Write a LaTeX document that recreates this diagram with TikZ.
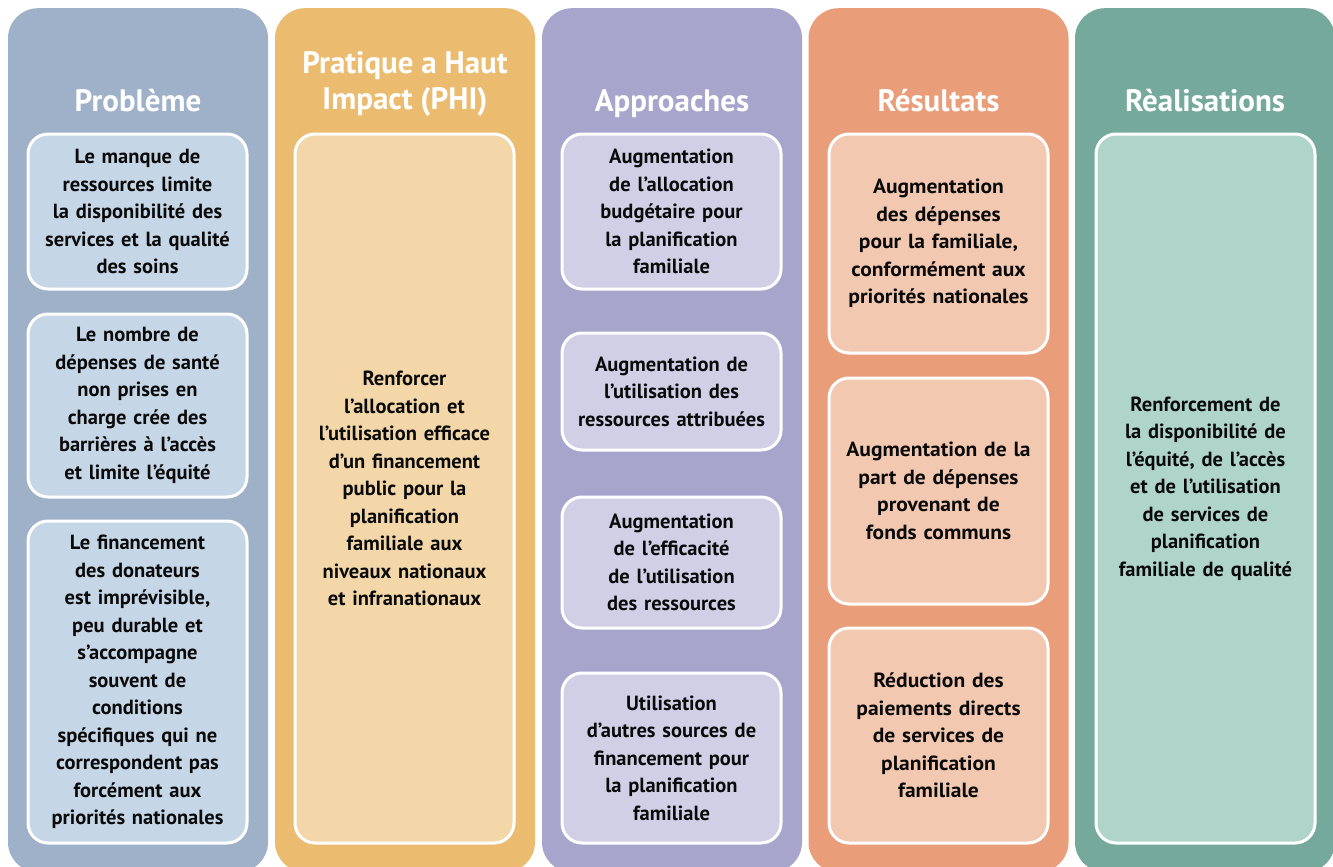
\documentclass[tikz,border=0pt]{standalone}
\usepackage{fontspec}
\setmainfont{PT Sans}
\definecolor{cA}{HTML}{9EB1C9}\definecolor{cAl}{HTML}{C5D6E6}
\definecolor{cB}{HTML}{EBBC70}\definecolor{cBl}{HTML}{F3D7A9}
\definecolor{cC}{HTML}{A8A5CD}\definecolor{cCl}{HTML}{D1CFE6}
\definecolor{cD}{HTML}{EA9D79}\definecolor{cDl}{HTML}{F2C8B1}
\definecolor{cE}{HTML}{75A99B}\definecolor{cEl}{HTML}{AFD5CB}
\definecolor{txt}{HTML}{0A0A0A}
\begin{document}
\begin{tikzpicture}[x=1pt,y=-1pt,
  colbox/.style={rounded corners=30pt, inner sep=0pt, minimum width=260pt, minimum height=864pt, anchor=north},
  coltitle/.style={text=white, align=center, inner sep=0pt, font=\bfseries\fontsize{31}{36}\selectfont},
  itembox/.style={draw=white, line width=3pt, rounded corners=20pt, minimum width=219pt, text width=214pt,
    align=center, inner sep=0pt, text=txt, font=\bfseries\fontsize{20.5}{27.5}\selectfont},
  wide/.style={font=\bfseries\fontsize{20.5}{27.5}\selectfont\addfontfeature{FakeStretch=1.05}}
]
\clip (0,0) rectangle (1333,867);
\fill[white] (0,0) rectangle (1333,867);
% columns
\node[colbox, fill=cA] (colA) at (138,8) {};
\node[colbox, fill=cB] (colB) at (405,8) {};
\node[colbox, fill=cC] (colC) at (672,8) {};
\node[colbox, fill=cD] (colD) at (938.5,8) {};
\node[colbox, fill=cE] (colE) at (1205,8) {};
% titles
\node[coltitle, anchor=base] (tA) at (138,111) {Problème};
\node[coltitle] (tB) at (405,84) {Pratique a Haut\\Impact (PHI)};
\node[coltitle, anchor=base] (tC) at (672,111) {Approaches};
\node[coltitle, anchor=base] (tD) at (938.5,111) {Résultats};
\node[coltitle, anchor=base] (tE) at (1205,111) {Rèalisations};
% column 1
\node[itembox, fill=cAl, minimum height=155pt] (a1) at (137.5,211.5)
  {Le manque de\\ressources limite\\la disponibilité des\\services et la qualité\\des soins};
\node[itembox, fill=cAl, minimum height=183pt] (a2) at (137.5,405.5)
  {Le nombre de\\dépenses de santé\\non prises en\\charge crée des\\barrières à l’accès\\et limite l’équité};
\node[itembox, fill=cAl, minimum height=322pt] (a3) at (137.5,682)
  {Le financement\\des donateurs\\est imprévisible,\\peu durable et\\s’accompagne\\souvent de\\conditions\\spécifiques qui ne\\correspondent pas\\forcément aux\\priorités nationales};
% column 2
\node[itembox, fill=cBl, minimum height=709pt] (b1) at (404.5,488.5)
  {Renforcer\\l’allocation et\\l’utilisation efficace\\d’un financement\\public pour la\\planification\\familiale aux\\niveaux nationaux\\et infranationaux};
% column 3
\node[itembox, fill=cCl, minimum height=155pt] (c1) at (671.5,211.5)
  {Augmentation\\de l’allocation\\budgétaire pour\\la planification\\familiale};
\node[itembox, fill=cCl, minimum height=117pt] (c2) at (671.5,391.5)
  {Augmentation de\\l’utilisation des\\ressources attribuées};
\node[itembox, fill=cCl, minimum height=131pt] (c3) at (671.5,562.5)
  {Augmentation\\de l’efficacité\\de l’utilisation\\des ressources};
\node[itembox, fill=cCl, minimum height=170pt] (c4) at (671.5,758)
  {Utilisation\\d’autres sources de\\financement pour\\la planification\\familiale};
% column 4
\node[itembox, wide, fill=cDl, minimum height=219pt] (d1) at (938.5,243.5)
  {Augmentation\\des dépenses\\pour la familiale,\\conformément aux\\priorités nationales};
\node[itembox, wide, fill=cDl, minimum height=226pt] (d2) at (938.5,491)
  {Augmentation de la\\part de dépenses\\provenant de\\fonds communs};
\node[itembox, wide, fill=cDl, minimum height=215pt] (d3) at (938.5,735.5)
  {Réduction des\\paiements directs\\de services de\\planification\\familiale};
% column 5
\node[itembox, fill=cEl, minimum height=709pt] (e1) at (1205.5,488.5)
  {Renforcement de\\la disponibilité de\\l’équité, de l’accès\\et de l’utilisation\\de services de\\planification\\familiale de qualité};
\end{tikzpicture}
\end{document}
